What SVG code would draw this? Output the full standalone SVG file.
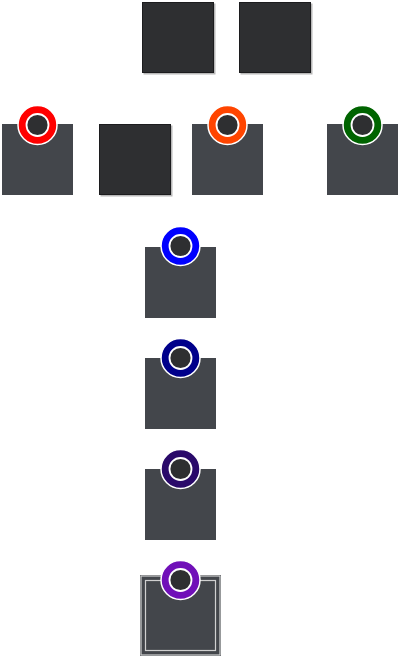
<svg xmlns="http://www.w3.org/2000/svg" width="400" height="658" viewBox="0 0 400 658">
<style>
.dark{fill:#2e2f31;stroke:#1c1c1e;stroke-width:1}
.sh{fill:#b8b8b8}
.node{fill:#43464b}
.ring{stroke:#ffffff;stroke-width:1.5}
.core{fill:#2e2f31;stroke:#ffffff;stroke-width:1.8}
.dbl{fill:none;stroke:#d0d0d0;stroke-width:1.2}
</style>
<rect width="400" height="658" fill="#ffffff"/>
<g id="connectors"></g>
<g id="d1"><rect class="sh" x="143.5" y="3.5" width="72" height="71"/><rect class="dark" x="142.5" y="2.5" width="71" height="70"/></g>
<g id="d2"><rect class="sh" x="240.5" y="3.5" width="72" height="71"/><rect class="dark" x="239.5" y="2.5" width="71" height="70"/></g>
<g id="d3"><rect class="sh" x="100.5" y="125.5" width="72" height="71"/><rect class="dark" x="99.5" y="124.5" width="71" height="70"/></g>
<g id="n-red"><rect class="node" x="2" y="124" width="71" height="71"/><circle class="ring" cx="37.5" cy="125" r="19.5" fill="#ff0000"/><circle class="core" cx="37.5" cy="125" r="11"/></g>
<g id="n-orange"><rect class="node" x="192" y="124" width="71" height="71"/><circle class="ring" cx="227.5" cy="125" r="19.5" fill="#ff4500"/><circle class="core" cx="227.5" cy="125" r="11"/></g>
<g id="n-green"><rect class="node" x="327" y="124" width="71" height="71"/><circle class="ring" cx="362.5" cy="125" r="19.5" fill="#006400"/><circle class="core" cx="362.5" cy="125" r="11"/></g>
<g id="n-blue"><rect class="node" x="145" y="247" width="71" height="71"/><circle class="ring" cx="180.5" cy="246" r="19.5" fill="#0000ff"/><circle class="core" cx="180.5" cy="246" r="11"/></g>
<g id="n-navy"><rect class="node" x="145" y="358" width="71" height="71"/><circle class="ring" cx="180.5" cy="358" r="19.5" fill="#00008b"/><circle class="core" cx="180.5" cy="358" r="11"/></g>
<g id="n-indigo"><rect class="node" x="145" y="469" width="71" height="71"/><circle class="ring" cx="180.5" cy="469" r="19.5" fill="#2a0a6a"/><circle class="core" cx="180.5" cy="469" r="11"/></g>
<g id="n-purple"><rect class="node" x="140" y="575" width="81" height="81"/><rect class="dbl" x="141" y="576" width="79" height="79"/><rect class="dbl" x="145.5" y="580.5" width="70" height="70"/><circle class="ring" cx="180.5" cy="580" r="19.5" fill="#7010b8"/><circle class="core" cx="180.5" cy="580" r="11"/></g>
</svg>
